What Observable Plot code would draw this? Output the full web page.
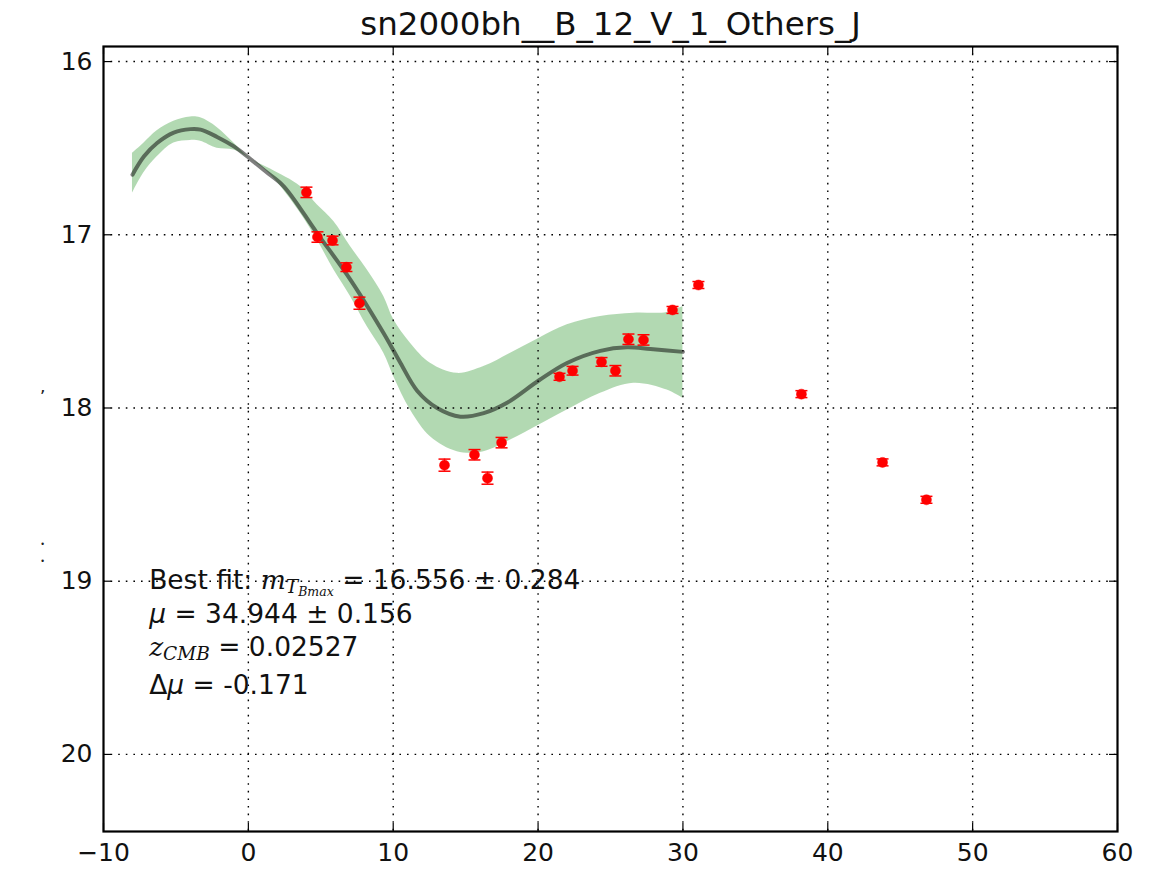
<!DOCTYPE html>
<html>
<head>
<meta charset="utf-8">
<script src="https://cdn.jsdelivr.net/npm/d3@7"></script>
<script src="https://cdn.jsdelivr.net/npm/@observablehq/plot@0.6"></script>
<style>
  html, body { margin: 0; padding: 0; background: white; }
  #chart svg { display: block; }
</style>
</head>
<body>
<div id="chart"></div>
<script>
// ---------- data ----------
const chartTitle = "sn2000bh__B_12_V_1_Others_J";

const xTicks = [-10, 0, 10, 20, 30, 40, 50, 60];
const yTicks = [16, 17, 18, 19, 20];

// observed photometry (phase, magnitude, error)
const obsPhase = [4.01, 4.77, 5.81, 6.77, 7.67, 13.54, 15.61, 16.51, 17.48, 21.48, 22.38, 24.38, 25.34, 26.24, 27.28, 29.28, 31.07, 38.18, 43.78, 46.81];
const obsMag   = [16.755, 17.013, 17.033, 17.187, 17.395, 18.33, 18.27, 18.405, 18.20, 17.82, 17.785, 17.734, 17.785, 17.603, 17.607, 17.434, 17.29, 17.92, 18.314, 18.53];
const obsErr   = [0.03, 0.03, 0.025, 0.025, 0.035, 0.035, 0.03, 0.035, 0.03, 0.02, 0.025, 0.025, 0.03, 0.03, 0.03, 0.02, 0.02, 0.02, 0.02, 0.02];

// template fit (mean curve)
const fitPhase = [-8.0, -7.2, -6.3, -5.15, -4.0, -3.3, -2.16, -1.0, 0.1, 1.2, 2.44, 4.74, 7.05, 9.35, 10.5, 11.65, 13.03, 14.64, 16.25, 17.86, 20.07, 22.0, 24.3, 26.14, 27.76, 30.0];
const fitMag   = [16.653, 16.547, 16.47, 16.41, 16.39, 16.393, 16.435, 16.49, 16.56, 16.635, 16.72, 16.99, 17.26, 17.57, 17.74, 17.90, 18.0, 18.05, 18.03, 17.97, 17.84, 17.74, 17.67, 17.65, 17.66, 17.676];

// fit uncertainty band
const bandPhase = [-8.0, -7.2, -6.3, -5.15, -4.0, -3.3, -2.16, -1.0, 0.1, 1.53, 3.60, 4.75, 5.90, 7.05, 8.20, 9.35, 10.04, 11.19, 12.57, 14.42, 16.25, 18.10, 20.08, 22.01, 24.31, 26.61, 28.91, 30.0];
const bandBright = [16.53, 16.47, 16.40, 16.345, 16.32, 16.325, 16.38, 16.47, 16.56, 16.62, 16.721, 16.827, 16.923, 17.068, 17.202, 17.356, 17.491, 17.626, 17.742, 17.800, 17.761, 17.684, 17.597, 17.520, 17.472, 17.453, 17.449, 17.414];
const bandFaint  = [16.76, 16.64, 16.55, 16.47, 16.455, 16.46, 16.50, 16.51, 16.56, 16.653, 16.875, 17.029, 17.202, 17.356, 17.530, 17.684, 17.819, 18.012, 18.166, 18.252, 18.252, 18.185, 18.098, 18.012, 17.915, 17.857, 17.896, 17.944];

// annotation lines: segments [text, style]  (n = normal, i = math italic, g = greek italic, s = subscript, ss = sub-subscript)
const annotationLines = [
  [["Best fit: ", "n"], ["m", "i"], ["T", "s"], ["Bmax", "ss"], [" = 16.556 ± 0.284", "n"]],
  [["μ", "g"], [" = 34.944 ± 0.156", "n"]],
  [["z", "i"], ["CMB", "s"], [" = 0.02527", "n"]],
  [["Δ", "n"], ["μ", "g"], [" = -0.171", "n"]]
];
const annotationY = [18.995, 19.19, 19.385, 19.60];
const annotationX = -6.85;

// clipped y-label fragments at the left edge
const leftFragments = ["’", "•", "•"];
const leftFragmentY = [17.94, 18.785, 18.885];

// ---------- build tables ----------
const obs = obsPhase.map((p, i) => ({phase: p, mag: obsMag[i], err: obsErr[i]}));
const fit = fitPhase.map((p, i) => ({phase: p, mag: fitMag[i]}));
const band = bandPhase.map((p, i) => ({phase: p, lo: bandBright[i], hi: bandFaint[i]}));
const ann = annotationLines.map((segs, i) => ({text: segs.map(s => s[0]).join(""), y: annotationY[i], segs}));
const frags = leftFragments.map((t, i) => ({t, y: leftFragmentY[i], size: i === 0 ? 18 : 8}));

const W = 1154, H = 870;
const mL = 103, mR = 37, mT = 46, mB = 39;
const frameW = W - mL - mR, frameH = H - mT - mB;
const tickLen = 8;

const capSymbol = {
  draw(ctx, size) {
    const w = Math.sqrt(size / Math.PI);
    ctx.moveTo(-w, 0);
    ctx.lineTo(w, 0);
  }
};

const chart = Plot.plot({
  width: W,
  height: H,
  marginLeft: mL, marginRight: mR, marginTop: mT, marginBottom: mB,
  style: {fontFamily: "DejaVu Sans, sans-serif", fontSize: "25px", color: "black", background: "white", overflow: "visible"},
  x: {domain: [-10, 60], label: null},
  y: {domain: [15.913, 20.445], reverse: true, label: null},
  marks: [
    // band
    Plot.areaY(band, {x: "phase", y1: "lo", y2: "hi", fill: "#008000", fillOpacity: 0.3, curve: "catmull-rom"}),
    // grid
    Plot.ruleX(xTicks.slice(1, -1), {x: d => d, stroke: "black", strokeWidth: 1.4, strokeDasharray: "1.6,6"}),
    Plot.ruleY(yTicks, {y: d => d, stroke: "black", strokeWidth: 1.4, strokeDasharray: "1.6,6"}),
    // fit curve
    Plot.line(fit, {x: "phase", y: "mag", stroke: "black", strokeOpacity: 0.5, strokeWidth: 4, curve: "catmull-rom"}),
    // error bars
    Plot.ruleX(obs, {x: "phase", y1: d => d.mag - d.err, y2: d => d.mag + d.err, stroke: "red", strokeWidth: 1.5}),
    Plot.dot(obs, {x: "phase", y: d => d.mag - d.err, symbol: capSymbol, r: 6, stroke: "red", strokeWidth: 1.5, fill: "none"}),
    Plot.dot(obs, {x: "phase", y: d => d.mag + d.err, symbol: capSymbol, r: 6, stroke: "red", strokeWidth: 1.5, fill: "none"}),
    Plot.dot(obs, {x: "phase", y: "mag", r: 5, fill: "red", stroke: "red", strokeWidth: 0.5}),
    // inward ticks on all four sides
    Plot.ruleX(xTicks, {x: d => d, stroke: "black", strokeWidth: 1.2, insetTop: frameH - tickLen}),
    Plot.ruleX(xTicks, {x: d => d, stroke: "black", strokeWidth: 1.2, insetBottom: frameH - tickLen}),
    Plot.ruleY(yTicks, {y: d => d, stroke: "black", strokeWidth: 1.2, insetLeft: frameW - tickLen}),
    Plot.ruleY(yTicks, {y: d => d, stroke: "black", strokeWidth: 1.2, insetRight: frameW - tickLen}),
    // frame
    Plot.frame({stroke: "black", strokeWidth: 2.2}),
    // axes labels
    Plot.axisX(xTicks, {tickSize: 0, tickPadding: 12, fontSize: 25, fill: "#111", tickFormat: d => d < 0 ? "\u2212" + Math.abs(d) : String(d)}),
    Plot.axisY(yTicks, {tickSize: 0, tickPadding: 11, fontSize: 25, fill: "#111", tickFormat: d => String(d)}),
    // annotation
    Plot.text(ann, {x: () => annotationX, y: "y", text: "text", textAnchor: "start", fontSize: 26.5, fill: "#111"}),
    // left fragments
    Plot.text(frags, {x: () => -10, y: "y", text: "t", dx: -61, fontSize: d => d.size, fill: "#222"}),
    // title
    Plot.text([chartTitle], {frameAnchor: "top", lineAnchor: "middle", dy: -22, fontSize: 32.5, fill: "#111"})
  ]
});

document.getElementById("chart").appendChild(chart);

// rich text for the math-like annotation segments
const styleMap = {
  n: {family: "DejaVu Sans", style: "normal", size: 26.5, shift: 0},
  i: {family: "DejaVu Serif", style: "italic", size: 26.5, shift: 0},
  g: {family: "DejaVu Sans", style: "oblique", size: 26.5, shift: 0},
  s: {family: "DejaVu Serif", style: "italic", size: 18.5, shift: 4},
  ss: {family: "DejaVu Serif", style: "italic", size: 12.5, shift: 7}
};
d3.select(chart).selectAll("text").each(function () {
  const node = this;
  const row = ann.find(a => a.text === node.textContent);
  if (!row) return;
  const sel = d3.select(node);
  sel.text(null);
  let prevShift = 0;
  row.segs.forEach(([t, k]) => {
    const st = styleMap[k];
    sel.append("tspan")
      .attr("font-family", st.family)
      .attr("font-style", st.style)
      .attr("font-size", st.size)
      .attr("dy", st.shift - prevShift)
      .text(t);
    prevShift = st.shift;
  });
});
</script>
</body>
</html>
